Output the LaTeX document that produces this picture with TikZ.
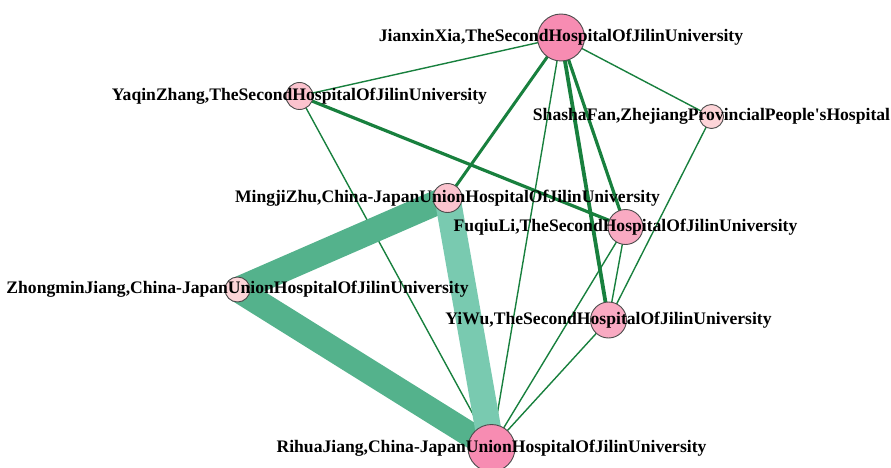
\documentclass[tikz,border=0pt]{standalone}
\usepackage{fontspec}
\setmainfont{Liberation Serif}
\usetikzlibrary{backgrounds}

\definecolor{linkgreen}{RGB}{24,128,62}
\definecolor{bandgreen}{RGB}{84,178,140}
\definecolor{bandlight}{RGB}{121,202,176}
\definecolor{pinkA}{RGB}{247,140,178}
\definecolor{pinkB}{RGB}{249,170,194}
\definecolor{pinkC}{RGB}{251,195,206}
\definecolor{pinkD}{RGB}{253,212,216}

\begin{document}
\begin{tikzpicture}[x=1pt,y=-1pt,
		author/.style={circle,draw=black!70,line width=0.9pt,inner sep=0pt,minimum size=#1},
		authorname/.style={font=\fontsize{17.6}{18}\selectfont\bfseries,inner sep=0pt},
		coop/.style={draw=linkgreen,line width=#1}]
	\useasboundingbox (0,0) rectangle (891,468);

	\node[author=47pt,fill=pinkA,label={[authorname]center:JianxinXia,TheSecondHospitalOfJilinUniversity}] (jx) at (561,37.5) {};
	\node[author=27pt,fill=pinkC,label={[authorname]center:YaqinZhang,TheSecondHospitalOfJilinUniversity}] (yz) at (299.5,96) {};
	\node[author=24pt,fill=pinkD,label={[authorname]center:ShashaFan,ZhejiangProvincialPeople\textquotesingle sHospital}] (sf) at (711.5,116.5) {};
	\node[author=29pt,fill=pinkC,label={[authorname]center:MingjiZhu,China-JapanUnionHospitalOfJilinUniversity}] (mz) at (447.5,198) {};
	\node[author=35pt,fill=pinkB,label={[authorname]center:FuqiuLi,TheSecondHospitalOfJilinUniversity}] (fl) at (625.5,227) {};
	\node[author=25pt,fill=pinkD,label={[authorname]center:ZhongminJiang,China-JapanUnionHospitalOfJilinUniversity}] (zj) at (237.5,289.5) {};
	\node[author=36pt,fill=pinkB,label={[authorname]center:YiWu,TheSecondHospitalOfJilinUniversity}] (yw) at (608.5,320) {};
	\node[author=47pt,fill=pinkA,label={[authorname]center:RihuaJiang,China-JapanUnionHospitalOfJilinUniversity}] (rj) at (491.5,448) {};

	\begin{scope}[on background layer]
		\foreach \a/\b in {jx/yz,jx/sf,jx/rj,yz/rj,sf/yw,fl/yw,fl/rj,yw/rj} % einfache Kooperation
			\draw[coop=1.4pt] (\a.center) -- (\b.center);
		\foreach \a/\b/\w in {jx/mz/3,jx/fl/3.2,jx/yw/3.8,yz/fl/3.2} % mehrfache Kooperation
			\draw[coop=\w pt] (\a.center) -- (\b.center);
		\draw[bandgreen,line width=25pt,line cap=round] (mz.center) -- (zj.center); % starke Kooperation
		\draw[bandgreen,line width=25pt,line cap=round] (zj.center) -- (rj.center);
		\draw[bandlight,line width=26pt,line cap=round] (mz.center) -- (rj.center);
	\end{scope}
\end{tikzpicture}
\end{document}
